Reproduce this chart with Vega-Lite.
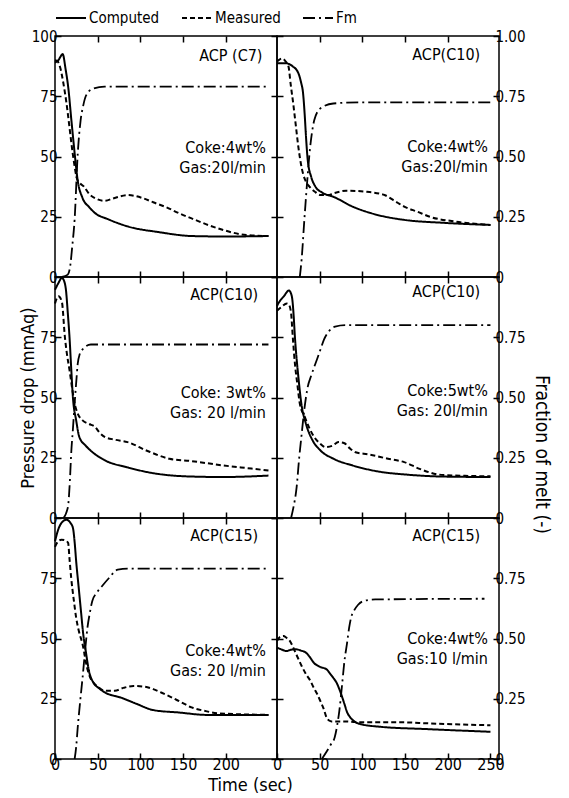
{
  "$schema": "https://vega.github.io/schema/vega-lite/v6.json",
  "padding": {"left": 19, "top": 2, "right": 5, "bottom": 0},
  "config": {
    "font": "DejaVu Sans Condensed, Liberation Sans Narrow, Liberation Sans, sans-serif",
    "view": {"stroke": "black", "strokeWidth": 1.5},
    "axis": {"domain": false, "grid": false, "tickColor": "black", "tickWidth": 1.5, "tickSize": -6, "labelColor": "black", "labelFontSize": 15, "titleColor": "black", "titleFontSize": 17, "titleFontWeight": "normal", "labelPadding": 4, "labelFlush": false},
    "axisX": {"labelFontSize": 16, "labelPadding": 3},
    "legend": {"orient": "top", "direction": "horizontal", "title": null, "offset": 2, "symbolType": "stroke", "symbolSize": 900, "symbolStrokeWidth": 1.8, "symbolStrokeColor": "black", "labelFontSize": 15, "labelColor": "black", "columnPadding": 18, "labelOffset": 2},
    "line": {"color": "black"},
    "text": {"color": "black", "fontSize": 16, "align": "right", "baseline": "middle", "lineHeight": 20}
  },
  "datasets": {
    "A": [
      {"s": "Computed", "t": 0, "p": 89}, {"s": "Computed", "t": 4, "p": 90}, {"s": "Computed", "t": 9, "p": 92.5}, {"s": "Computed", "t": 12.5, "p": 86}, {"s": "Computed", "t": 15.4, "p": 79}, {"s": "Computed", "t": 19.2, "p": 65}, {"s": "Computed", "t": 23, "p": 51.4}, {"s": "Computed", "t": 26.6, "p": 40}, {"s": "Computed", "t": 32, "p": 33}, {"s": "Computed", "t": 40, "p": 29}, {"s": "Computed", "t": 47, "p": 26.5}, {"s": "Computed", "t": 62, "p": 24}, {"s": "Computed", "t": 85, "p": 21}, {"s": "Computed", "t": 122, "p": 18.6}, {"s": "Computed", "t": 160, "p": 17}, {"s": "Computed", "t": 200, "p": 16.8}, {"s": "Computed", "t": 250, "p": 17},
      {"s": "Measured", "t": 0, "p": 90}, {"s": "Measured", "t": 3, "p": 89.5}, {"s": "Measured", "t": 6, "p": 87}, {"s": "Measured", "t": 10, "p": 80}, {"s": "Measured", "t": 13.5, "p": 72}, {"s": "Measured", "t": 17, "p": 62}, {"s": "Measured", "t": 20.7, "p": 51.4}, {"s": "Measured", "t": 26.6, "p": 40}, {"s": "Measured", "t": 34, "p": 37.5}, {"s": "Measured", "t": 40, "p": 34.5}, {"s": "Measured", "t": 47, "p": 32.7}, {"s": "Measured", "t": 58, "p": 31.6}, {"s": "Measured", "t": 69, "p": 32.7}, {"s": "Measured", "t": 85, "p": 34}, {"s": "Measured", "t": 103, "p": 32.7}, {"s": "Measured", "t": 115, "p": 31}, {"s": "Measured", "t": 130, "p": 29}, {"s": "Measured", "t": 145, "p": 26.5}, {"s": "Measured", "t": 160, "p": 24.3}, {"s": "Measured", "t": 180, "p": 21.5}, {"s": "Measured", "t": 197, "p": 19.5}, {"s": "Measured", "t": 224, "p": 17.4}, {"s": "Measured", "t": 250, "p": 17},
      {"s": "Fm", "t": 8, "f": 0}, {"s": "Fm", "t": 15, "f": 0.01}, {"s": "Fm", "t": 18, "f": 0.05}, {"s": "Fm", "t": 20, "f": 0.12}, {"s": "Fm", "t": 23, "f": 0.24}, {"s": "Fm", "t": 26.6, "f": 0.51}, {"s": "Fm", "t": 30, "f": 0.65}, {"s": "Fm", "t": 33, "f": 0.71}, {"s": "Fm", "t": 36, "f": 0.75}, {"s": "Fm", "t": 43.5, "f": 0.78}, {"s": "Fm", "t": 58, "f": 0.79}, {"s": "Fm", "t": 250, "f": 0.79}
    ],
    "B": [
      {"s": "Computed", "t": 0, "p": 88.7}, {"s": "Computed", "t": 10, "p": 88.7}, {"s": "Computed", "t": 18, "p": 87.5}, {"s": "Computed", "t": 25, "p": 84.6}, {"s": "Computed", "t": 28, "p": 81}, {"s": "Computed", "t": 30.6, "p": 76}, {"s": "Computed", "t": 32.5, "p": 67}, {"s": "Computed", "t": 34, "p": 58}, {"s": "Computed", "t": 36, "p": 48.5}, {"s": "Computed", "t": 40, "p": 41.6}, {"s": "Computed", "t": 45, "p": 37.5}, {"s": "Computed", "t": 53, "p": 35}, {"s": "Computed", "t": 66, "p": 33.3}, {"s": "Computed", "t": 88.6, "p": 29.2}, {"s": "Computed", "t": 115, "p": 26}, {"s": "Computed", "t": 149, "p": 23.7}, {"s": "Computed", "t": 194, "p": 22.5}, {"s": "Computed", "t": 250, "p": 21.6},
      {"s": "Measured", "t": 0, "p": 89.4}, {"s": "Measured", "t": 6, "p": 90.7}, {"s": "Measured", "t": 10, "p": 89.5}, {"s": "Measured", "t": 13.5, "p": 87.3}, {"s": "Measured", "t": 16, "p": 80}, {"s": "Measured", "t": 19, "p": 72}, {"s": "Measured", "t": 22, "p": 63}, {"s": "Measured", "t": 25, "p": 54}, {"s": "Measured", "t": 28, "p": 47}, {"s": "Measured", "t": 30.4, "p": 43}, {"s": "Measured", "t": 34, "p": 39.5}, {"s": "Measured", "t": 38, "p": 37.5}, {"s": "Measured", "t": 44, "p": 35.5}, {"s": "Measured", "t": 51, "p": 34}, {"s": "Measured", "t": 60, "p": 34}, {"s": "Measured", "t": 66, "p": 34.7}, {"s": "Measured", "t": 81, "p": 35.8}, {"s": "Measured", "t": 103.6, "p": 35.4}, {"s": "Measured", "t": 126, "p": 34}, {"s": "Measured", "t": 138, "p": 31.5}, {"s": "Measured", "t": 149, "p": 29.2}, {"s": "Measured", "t": 165, "p": 27}, {"s": "Measured", "t": 179, "p": 25}, {"s": "Measured", "t": 209, "p": 23}, {"s": "Measured", "t": 250, "p": 21.6},
      {"s": "Fm", "t": 26.7, "f": 0}, {"s": "Fm", "t": 29, "f": 0.08}, {"s": "Fm", "t": 32, "f": 0.236}, {"s": "Fm", "t": 35, "f": 0.38}, {"s": "Fm", "t": 38, "f": 0.51}, {"s": "Fm", "t": 41, "f": 0.6}, {"s": "Fm", "t": 43.6, "f": 0.65}, {"s": "Fm", "t": 51, "f": 0.7}, {"s": "Fm", "t": 66, "f": 0.72}, {"s": "Fm", "t": 100, "f": 0.725}, {"s": "Fm", "t": 250, "f": 0.725}
    ],
    "C": [
      {"s": "Computed", "t": 0, "p": 94.7}, {"s": "Computed", "t": 4, "p": 97.5}, {"s": "Computed", "t": 8, "p": 99.6}, {"s": "Computed", "t": 11, "p": 98}, {"s": "Computed", "t": 12.8, "p": 94.7}, {"s": "Computed", "t": 15, "p": 85}, {"s": "Computed", "t": 17, "p": 75}, {"s": "Computed", "t": 19, "p": 62}, {"s": "Computed", "t": 21, "p": 50}, {"s": "Computed", "t": 24.8, "p": 40.5}, {"s": "Computed", "t": 28.5, "p": 33.6}, {"s": "Computed", "t": 36, "p": 30}, {"s": "Computed", "t": 45, "p": 27}, {"s": "Computed", "t": 58.6, "p": 23.9}, {"s": "Computed", "t": 85, "p": 21}, {"s": "Computed", "t": 115, "p": 18.6}, {"s": "Computed", "t": 160, "p": 17.2}, {"s": "Computed", "t": 197, "p": 17}, {"s": "Computed", "t": 250, "p": 17.6},
      {"s": "Measured", "t": 0, "p": 89}, {"s": "Measured", "t": 4, "p": 92}, {"s": "Measured", "t": 8, "p": 89.8}, {"s": "Measured", "t": 11.6, "p": 75}, {"s": "Measured", "t": 14, "p": 68}, {"s": "Measured", "t": 17, "p": 61.4}, {"s": "Measured", "t": 20, "p": 54}, {"s": "Measured", "t": 23, "p": 47.5}, {"s": "Measured", "t": 27, "p": 43}, {"s": "Measured", "t": 32.3, "p": 40.5}, {"s": "Measured", "t": 40, "p": 39}, {"s": "Measured", "t": 47, "p": 37.8}, {"s": "Measured", "t": 52, "p": 35.5}, {"s": "Measured", "t": 58.6, "p": 33.6}, {"s": "Measured", "t": 70, "p": 32.5}, {"s": "Measured", "t": 85, "p": 31.5}, {"s": "Measured", "t": 107, "p": 28}, {"s": "Measured", "t": 134, "p": 24.6}, {"s": "Measured", "t": 160, "p": 23.6}, {"s": "Measured", "t": 197, "p": 21.8}, {"s": "Measured", "t": 230, "p": 20.5}, {"s": "Measured", "t": 250, "p": 19.7},
      {"s": "Fm", "t": 10, "f": 0}, {"s": "Fm", "t": 13, "f": 0.02}, {"s": "Fm", "t": 15.6, "f": 0.058}, {"s": "Fm", "t": 17.5, "f": 0.16}, {"s": "Fm", "t": 19, "f": 0.27}, {"s": "Fm", "t": 21, "f": 0.37}, {"s": "Fm", "t": 23, "f": 0.475}, {"s": "Fm", "t": 25, "f": 0.57}, {"s": "Fm", "t": 26.6, "f": 0.64}, {"s": "Fm", "t": 29, "f": 0.68}, {"s": "Fm", "t": 32.3, "f": 0.7}, {"s": "Fm", "t": 42, "f": 0.72}, {"s": "Fm", "t": 250, "f": 0.72}
    ],
    "D": [
      {"s": "Computed", "t": 0, "p": 88}, {"s": "Computed", "t": 1.5, "p": 89}, {"s": "Computed", "t": 8, "p": 92}, {"s": "Computed", "t": 14, "p": 94.4}, {"s": "Computed", "t": 16, "p": 93.5}, {"s": "Computed", "t": 18, "p": 90.5}, {"s": "Computed", "t": 19.5, "p": 84}, {"s": "Computed", "t": 21, "p": 75}, {"s": "Computed", "t": 23, "p": 66}, {"s": "Computed", "t": 25, "p": 58.6}, {"s": "Computed", "t": 28.5, "p": 47.5}, {"s": "Computed", "t": 34, "p": 39}, {"s": "Computed", "t": 41.7, "p": 32.2}, {"s": "Computed", "t": 51, "p": 28}, {"s": "Computed", "t": 66, "p": 24.6}, {"s": "Computed", "t": 88.6, "p": 21.8}, {"s": "Computed", "t": 118.6, "p": 19.3}, {"s": "Computed", "t": 152, "p": 18}, {"s": "Computed", "t": 194, "p": 17.2}, {"s": "Computed", "t": 250, "p": 17},
      {"s": "Measured", "t": 0, "p": 86}, {"s": "Measured", "t": 5, "p": 87.5}, {"s": "Measured", "t": 11.6, "p": 89}, {"s": "Measured", "t": 14, "p": 88.5}, {"s": "Measured", "t": 16.5, "p": 85}, {"s": "Measured", "t": 18.5, "p": 75}, {"s": "Measured", "t": 21, "p": 64}, {"s": "Measured", "t": 24, "p": 55}, {"s": "Measured", "t": 26.7, "p": 47.5}, {"s": "Measured", "t": 32.5, "p": 42}, {"s": "Measured", "t": 37, "p": 38}, {"s": "Measured", "t": 43.6, "p": 33.6}, {"s": "Measured", "t": 50, "p": 31}, {"s": "Measured", "t": 56.7, "p": 29.4}, {"s": "Measured", "t": 65, "p": 30}, {"s": "Measured", "t": 72, "p": 31.5}, {"s": "Measured", "t": 79, "p": 31}, {"s": "Measured", "t": 85, "p": 29}, {"s": "Measured", "t": 92, "p": 27.3}, {"s": "Measured", "t": 107, "p": 26.4}, {"s": "Measured", "t": 130, "p": 24.6}, {"s": "Measured", "t": 149, "p": 23.2}, {"s": "Measured", "t": 167, "p": 20.4}, {"s": "Measured", "t": 190, "p": 18}, {"s": "Measured", "t": 220, "p": 17.5}, {"s": "Measured", "t": 250, "p": 17.3},
      {"s": "Fm", "t": 16.5, "f": 0}, {"s": "Fm", "t": 19, "f": 0.04}, {"s": "Fm", "t": 23, "f": 0.128}, {"s": "Fm", "t": 26, "f": 0.25}, {"s": "Fm", "t": 28.5, "f": 0.335}, {"s": "Fm", "t": 32, "f": 0.45}, {"s": "Fm", "t": 36, "f": 0.544}, {"s": "Fm", "t": 40, "f": 0.59}, {"s": "Fm", "t": 43.6, "f": 0.627}, {"s": "Fm", "t": 47, "f": 0.66}, {"s": "Fm", "t": 51, "f": 0.7}, {"s": "Fm", "t": 55, "f": 0.74}, {"s": "Fm", "t": 60.4, "f": 0.773}, {"s": "Fm", "t": 68, "f": 0.794}, {"s": "Fm", "t": 80, "f": 0.8}, {"s": "Fm", "t": 250, "f": 0.8}
    ],
    "E": [
      {"s": "Computed", "t": 0, "p": 90.4}, {"s": "Computed", "t": 4.5, "p": 95.9}, {"s": "Computed", "t": 9, "p": 98.5}, {"s": "Computed", "t": 13.5, "p": 99.3}, {"s": "Computed", "t": 18, "p": 98}, {"s": "Computed", "t": 21, "p": 95.9}, {"s": "Computed", "t": 23, "p": 90}, {"s": "Computed", "t": 24.8, "p": 82}, {"s": "Computed", "t": 27.5, "p": 72}, {"s": "Computed", "t": 30.4, "p": 61.4}, {"s": "Computed", "t": 33, "p": 52}, {"s": "Computed", "t": 36, "p": 44.8}, {"s": "Computed", "t": 39.8, "p": 36.5}, {"s": "Computed", "t": 45, "p": 31.7}, {"s": "Computed", "t": 51, "p": 29.5}, {"s": "Computed", "t": 58.6, "p": 27.6}, {"s": "Computed", "t": 77, "p": 25.5}, {"s": "Computed", "t": 96, "p": 22.8}, {"s": "Computed", "t": 115, "p": 20.3}, {"s": "Computed", "t": 145, "p": 19.3}, {"s": "Computed", "t": 178, "p": 18.3}, {"s": "Computed", "t": 250, "p": 18.3},
      {"s": "Measured", "t": 0, "p": 88}, {"s": "Measured", "t": 3, "p": 90}, {"s": "Measured", "t": 7.5, "p": 91}, {"s": "Measured", "t": 12, "p": 90.7}, {"s": "Measured", "t": 15.4, "p": 89.6}, {"s": "Measured", "t": 17, "p": 83}, {"s": "Measured", "t": 19, "p": 75}, {"s": "Measured", "t": 22, "p": 66}, {"s": "Measured", "t": 24.8, "p": 58.6}, {"s": "Measured", "t": 28, "p": 53}, {"s": "Measured", "t": 32.3, "p": 47.6}, {"s": "Measured", "t": 37.5, "p": 38}, {"s": "Measured", "t": 41, "p": 34}, {"s": "Measured", "t": 45, "p": 31.7}, {"s": "Measured", "t": 50, "p": 30}, {"s": "Measured", "t": 58.6, "p": 28.3}, {"s": "Measured", "t": 70, "p": 28.3}, {"s": "Measured", "t": 80, "p": 29.5}, {"s": "Measured", "t": 92, "p": 30.3}, {"s": "Measured", "t": 105, "p": 30}, {"s": "Measured", "t": 115, "p": 29}, {"s": "Measured", "t": 125, "p": 27.5}, {"s": "Measured", "t": 137, "p": 25.5}, {"s": "Measured", "t": 148, "p": 23.5}, {"s": "Measured", "t": 160, "p": 21.4}, {"s": "Measured", "t": 175, "p": 20}, {"s": "Measured", "t": 190, "p": 19}, {"s": "Measured", "t": 250, "p": 18.3},
      {"s": "Fm", "t": 23, "f": 0}, {"s": "Fm", "t": 24.8, "f": 0.05}, {"s": "Fm", "t": 26.6, "f": 0.13}, {"s": "Fm", "t": 29.5, "f": 0.24}, {"s": "Fm", "t": 32.3, "f": 0.338}, {"s": "Fm", "t": 35, "f": 0.44}, {"s": "Fm", "t": 38, "f": 0.545}, {"s": "Fm", "t": 41, "f": 0.61}, {"s": "Fm", "t": 43.6, "f": 0.655}, {"s": "Fm", "t": 49, "f": 0.69}, {"s": "Fm", "t": 55, "f": 0.717}, {"s": "Fm", "t": 63, "f": 0.75}, {"s": "Fm", "t": 73.5, "f": 0.786}, {"s": "Fm", "t": 85, "f": 0.79}, {"s": "Fm", "t": 250, "f": 0.79}
    ],
    "F": [
      {"s": "Computed", "t": 0, "p": 46.2}, {"s": "Computed", "t": 5, "p": 45.5}, {"s": "Computed", "t": 11, "p": 44.8}, {"s": "Computed", "t": 16, "p": 45.3}, {"s": "Computed", "t": 22.5, "p": 45.5}, {"s": "Computed", "t": 28, "p": 45}, {"s": "Computed", "t": 34, "p": 44.1}, {"s": "Computed", "t": 39, "p": 42}, {"s": "Computed", "t": 43, "p": 40}, {"s": "Computed", "t": 50.7, "p": 38.2}, {"s": "Computed", "t": 58, "p": 37.2}, {"s": "Computed", "t": 62, "p": 35.5}, {"s": "Computed", "t": 65.7, "p": 33.8}, {"s": "Computed", "t": 70, "p": 31.5}, {"s": "Computed", "t": 73, "p": 29}, {"s": "Computed", "t": 79, "p": 22.8}, {"s": "Computed", "t": 82, "p": 19.5}, {"s": "Computed", "t": 86, "p": 17.2}, {"s": "Computed", "t": 91, "p": 15.5}, {"s": "Computed", "t": 97.6, "p": 14.5}, {"s": "Computed", "t": 120, "p": 13.4}, {"s": "Computed", "t": 176, "p": 12.4}, {"s": "Computed", "t": 250, "p": 11.3},
      {"s": "Measured", "t": 0, "p": 49}, {"s": "Measured", "t": 3, "p": 50.5}, {"s": "Measured", "t": 7.5, "p": 51}, {"s": "Measured", "t": 11, "p": 50.3}, {"s": "Measured", "t": 15, "p": 49}, {"s": "Measured", "t": 20, "p": 45.5}, {"s": "Measured", "t": 24.4, "p": 42}, {"s": "Measured", "t": 29, "p": 38.5}, {"s": "Measured", "t": 34, "p": 35.2}, {"s": "Measured", "t": 39, "p": 32.5}, {"s": "Measured", "t": 43, "p": 29.6}, {"s": "Measured", "t": 47, "p": 27}, {"s": "Measured", "t": 50.7, "p": 24.1}, {"s": "Measured", "t": 55, "p": 20.5}, {"s": "Measured", "t": 58, "p": 17.2}, {"s": "Measured", "t": 61, "p": 16}, {"s": "Measured", "t": 64, "p": 15.6}, {"s": "Measured", "t": 79, "p": 15.6}, {"s": "Measured", "t": 101, "p": 15.2}, {"s": "Measured", "t": 150, "p": 15.2}, {"s": "Measured", "t": 176, "p": 14.8}, {"s": "Measured", "t": 250, "p": 14},
      {"s": "Fm", "t": 52.5, "f": 0}, {"s": "Fm", "t": 58, "f": 0.03}, {"s": "Fm", "t": 63, "f": 0.06}, {"s": "Fm", "t": 67.6, "f": 0.09}, {"s": "Fm", "t": 70.5, "f": 0.14}, {"s": "Fm", "t": 73, "f": 0.2}, {"s": "Fm", "t": 76, "f": 0.3}, {"s": "Fm", "t": 79, "f": 0.407}, {"s": "Fm", "t": 82, "f": 0.48}, {"s": "Fm", "t": 84.5, "f": 0.545}, {"s": "Fm", "t": 87, "f": 0.59}, {"s": "Fm", "t": 90, "f": 0.614}, {"s": "Fm", "t": 95, "f": 0.64}, {"s": "Fm", "t": 101, "f": 0.655}, {"s": "Fm", "t": 115, "f": 0.662}, {"s": "Fm", "t": 243, "f": 0.665}
    ]
  },
  "columns": 2,
  "spacing": 0,
  "bounds": "flush",
  "concat": [
      {"width": 222, "height": 241, "data": {"name": "A"},
       "layer": [
         {"layer": [
           {"transform": [{"filter": "datum.s != 'Fm'"}], "mark": {"type": "line", "interpolate": "monotone", "strokeWidth": 2},
            "encoding": {"x": {"field": "t", "type": "quantitative", "scale": {"domain": [0, 250]}, "axis": {"values": [50, 100, 150, 200], "labels": false, "title": null}},
                         "y": {"field": "p", "type": "quantitative", "scale": {"domain": [0, 100]}, "axis": {"values": [0, 25, 50, 75, 100], "title": null}},
                         "strokeDash": {"field": "s", "type": "nominal", "scale": {"domain": ["Computed", "Measured", "Fm"], "range": [[1, 0], [5, 3], [12, 4, 2, 4]]}}}},
           {"data": {"values": [{}]}, "mark": {"type": "text"}, "encoding": {"x": {"datum": 243}, "y": {"datum": 91.5}, "text": {"value": "ACP (C7)"}}},
           {"data": {"values": [{}]}, "mark": {"type": "text"}, "encoding": {"x": {"datum": 247}, "y": {"datum": 53.5}, "text": {"value": ["Coke:4wt%", "Gas:20l/min"]}}}
         ]},
         {"transform": [{"filter": "datum.s == 'Fm'"}], "mark": {"type": "line", "interpolate": "monotone", "strokeWidth": 1.8},
          "encoding": {"x": {"field": "t", "type": "quantitative", "scale": {"domain": [0, 250]}, "axis": {"orient": "top", "values": [50, 100, 150, 200], "labels": false, "title": null}},
                       "y": {"field": "f", "type": "quantitative", "scale": {"domain": [0, 1]}, "axis": {"orient": "right", "values": [0, 0.25, 0.5, 0.75, 1], "labels": false, "title": null}},
                       "strokeDash": {"field": "s", "type": "nominal", "scale": {"domain": ["Computed", "Measured", "Fm"], "range": [[1, 0], [5, 3], [12, 4, 2, 4]]}}}}
       ],
       "resolve": {"scale": {"y": "independent"}, "axis": {"x": "independent"}}},
      {"width": 222, "height": 241, "data": {"name": "B"},
       "layer": [
         {"layer": [
           {"transform": [{"filter": "datum.s != 'Fm'"}], "mark": {"type": "line", "interpolate": "monotone", "strokeWidth": 2},
            "encoding": {"x": {"field": "t", "type": "quantitative", "scale": {"domain": [0, 250]}, "axis": {"values": [50, 100, 150, 200], "labels": false, "title": null}},
                         "y": {"field": "p", "type": "quantitative", "scale": {"domain": [0, 100]}, "axis": {"values": [0, 25, 50, 75, 100], "labels": false, "title": null}},
                         "strokeDash": {"field": "s", "type": "nominal", "scale": {"domain": ["Computed", "Measured", "Fm"], "range": [[1, 0], [5, 3], [12, 4, 2, 4]]}}}},
           {"data": {"values": [{}]}, "mark": {"type": "text"}, "encoding": {"x": {"datum": 238}, "y": {"datum": 92}, "text": {"value": "ACP(C10)"}}},
           {"data": {"values": [{}]}, "mark": {"type": "text"}, "encoding": {"x": {"datum": 247}, "y": {"datum": 54}, "text": {"value": ["Coke:4wt%", "Gas:20l/min"]}}}
         ]},
         {"transform": [{"filter": "datum.s == 'Fm'"}], "mark": {"type": "line", "interpolate": "monotone", "strokeWidth": 1.8},
          "encoding": {"x": {"field": "t", "type": "quantitative", "scale": {"domain": [0, 250]}, "axis": {"orient": "top", "values": [50, 100, 150, 200], "labels": false, "title": null}},
                       "y": {"field": "f", "type": "quantitative", "scale": {"domain": [0, 1]}, "axis": {"orient": "right", "values": [0, 0.25, 0.5, 0.75, 1], "labelExpr": "datum.value == 0 ? '0' : format(datum.value, '.2f')", "labelPadding": 2, "title": null}},
                       "strokeDash": {"field": "s", "type": "nominal", "scale": {"domain": ["Computed", "Measured", "Fm"], "range": [[1, 0], [5, 3], [12, 4, 2, 4]]}}}}
       ],
       "resolve": {"scale": {"y": "independent"}, "axis": {"x": "independent"}}},
      {"width": 222, "height": 241, "data": {"name": "C"},
       "layer": [
         {"layer": [
           {"transform": [{"filter": "datum.s != 'Fm'"}], "mark": {"type": "line", "interpolate": "monotone", "strokeWidth": 2},
            "encoding": {"x": {"field": "t", "type": "quantitative", "scale": {"domain": [0, 250]}, "axis": {"values": [50, 100, 150, 200], "labels": false, "title": null}},
                         "y": {"field": "p", "type": "quantitative", "scale": {"domain": [0, 100]}, "axis": {"values": [0, 25, 50, 75], "title": "Pressure drop  (mmAq)", "titleFontSize": 18, "titlePadding": 2}},
                         "strokeDash": {"field": "s", "type": "nominal", "scale": {"domain": ["Computed", "Measured", "Fm"], "range": [[1, 0], [5, 3], [12, 4, 2, 4]]}}}},
           {"data": {"values": [{}]}, "mark": {"type": "text"}, "encoding": {"x": {"datum": 238}, "y": {"datum": 92.6}, "text": {"value": "ACP(C10)"}}},
           {"data": {"values": [{}]}, "mark": {"type": "text"}, "encoding": {"x": {"datum": 247}, "y": {"datum": 52}, "text": {"value": ["Coke: 3wt%", "Gas: 20 l/min"]}}}
         ]},
         {"transform": [{"filter": "datum.s == 'Fm'"}], "mark": {"type": "line", "interpolate": "monotone", "strokeWidth": 1.8},
          "encoding": {"x": {"field": "t", "type": "quantitative", "scale": {"domain": [0, 250]}, "axis": {"orient": "top", "values": [50, 100, 150, 200], "labels": false, "title": null}},
                       "y": {"field": "f", "type": "quantitative", "scale": {"domain": [0, 1]}, "axis": {"orient": "right", "values": [0, 0.25, 0.5, 0.75, 1], "labels": false, "title": null}},
                       "strokeDash": {"field": "s", "type": "nominal", "scale": {"domain": ["Computed", "Measured", "Fm"], "range": [[1, 0], [5, 3], [12, 4, 2, 4]]}}}}
       ],
       "resolve": {"scale": {"y": "independent"}, "axis": {"x": "independent"}}},
      {"width": 222, "height": 241, "data": {"name": "D"},
       "layer": [
         {"layer": [
           {"transform": [{"filter": "datum.s != 'Fm'"}], "mark": {"type": "line", "interpolate": "monotone", "strokeWidth": 2},
            "encoding": {"x": {"field": "t", "type": "quantitative", "scale": {"domain": [0, 250]}, "axis": {"values": [50, 100, 150, 200], "labels": false, "title": null}},
                         "y": {"field": "p", "type": "quantitative", "scale": {"domain": [0, 100]}, "axis": {"values": [0, 25, 50, 75], "labels": false, "title": null}},
                         "strokeDash": {"field": "s", "type": "nominal", "scale": {"domain": ["Computed", "Measured", "Fm"], "range": [[1, 0], [5, 3], [12, 4, 2, 4]]}}}},
           {"data": {"values": [{}]}, "mark": {"type": "text"}, "encoding": {"x": {"datum": 238}, "y": {"datum": 93.6}, "text": {"value": "ACP(C10)"}}},
           {"data": {"values": [{}]}, "mark": {"type": "text"}, "encoding": {"x": {"datum": 247}, "y": {"datum": 52.8}, "text": {"value": ["Coke:5wt%", "Gas: 20l/min"]}}}
         ]},
         {"transform": [{"filter": "datum.s == 'Fm'"}], "mark": {"type": "line", "interpolate": "monotone", "strokeWidth": 1.8},
          "encoding": {"x": {"field": "t", "type": "quantitative", "scale": {"domain": [0, 250]}, "axis": {"orient": "top", "values": [50, 100, 150, 200], "labels": false, "title": null}},
                       "y": {"field": "f", "type": "quantitative", "scale": {"domain": [0, 1]}, "axis": {"orient": "right", "values": [0, 0.25, 0.5, 0.75], "labelExpr": "datum.value == 0 ? '0' : format(datum.value, '.2f')", "labelPadding": 2, "title": "Fraction  of  melt   (-)", "titleFontSize": 19, "titleY": 177, "titlePadding": 6}},
                       "strokeDash": {"field": "s", "type": "nominal", "scale": {"domain": ["Computed", "Measured", "Fm"], "range": [[1, 0], [5, 3], [12, 4, 2, 4]]}}}}
       ],
       "resolve": {"scale": {"y": "independent"}, "axis": {"x": "independent"}}},
      {"width": 222, "height": 241, "data": {"name": "E"},
       "layer": [
         {"layer": [
           {"transform": [{"filter": "datum.s != 'Fm'"}], "mark": {"type": "line", "interpolate": "monotone", "strokeWidth": 2},
            "encoding": {"x": {"field": "t", "type": "quantitative", "scale": {"domain": [0, 250]}, "axis": {"values": [0, 50, 100, 150, 200], "title": "Time  (sec)", "titleFontSize": 18, "titlePadding": 4, "titleX": 195}},
                         "y": {"field": "p", "type": "quantitative", "scale": {"domain": [0, 100]}, "axis": {"values": [0, 25, 50, 75], "title": null}},
                         "strokeDash": {"field": "s", "type": "nominal", "scale": {"domain": ["Computed", "Measured", "Fm"], "range": [[1, 0], [5, 3], [12, 4, 2, 4]]}}}},
           {"data": {"values": [{}]}, "mark": {"type": "text"}, "encoding": {"x": {"datum": 238}, "y": {"datum": 92.4}, "text": {"value": "ACP(C15)"}}},
           {"data": {"values": [{}]}, "mark": {"type": "text"}, "encoding": {"x": {"datum": 247}, "y": {"datum": 45}, "text": {"value": ["Coke:4wt%", "Gas: 20 l/min"]}}}
         ]},
         {"transform": [{"filter": "datum.s == 'Fm'"}], "mark": {"type": "line", "interpolate": "monotone", "strokeWidth": 1.8},
          "encoding": {"x": {"field": "t", "type": "quantitative", "scale": {"domain": [0, 250]}, "axis": {"orient": "top", "values": [50, 100, 150, 200], "labels": false, "title": null}},
                       "y": {"field": "f", "type": "quantitative", "scale": {"domain": [0, 1]}, "axis": {"orient": "right", "values": [0, 0.25, 0.5, 0.75, 1], "labels": false, "title": null}},
                       "strokeDash": {"field": "s", "type": "nominal", "scale": {"domain": ["Computed", "Measured", "Fm"], "range": [[1, 0], [5, 3], [12, 4, 2, 4]]}}}}
       ],
       "resolve": {"scale": {"y": "independent"}, "axis": {"x": "independent"}}},
      {"width": 222, "height": 241, "data": {"name": "F"},
       "layer": [
         {"layer": [
           {"transform": [{"filter": "datum.s != 'Fm'"}], "mark": {"type": "line", "interpolate": "monotone", "strokeWidth": 2},
            "encoding": {"x": {"field": "t", "type": "quantitative", "scale": {"domain": [0, 250]}, "axis": {"values": [0, 50, 100, 150, 200, 250], "title": null}},
                         "y": {"field": "p", "type": "quantitative", "scale": {"domain": [0, 100]}, "axis": {"values": [0, 25, 50, 75], "labels": false, "title": null}},
                         "strokeDash": {"field": "s", "type": "nominal", "scale": {"domain": ["Computed", "Measured", "Fm"], "range": [[1, 0], [5, 3], [12, 4, 2, 4]]}}}},
           {"data": {"values": [{}]}, "mark": {"type": "text"}, "encoding": {"x": {"datum": 238}, "y": {"datum": 92.4}, "text": {"value": "ACP(C15)"}}},
           {"data": {"values": [{}]}, "mark": {"type": "text"}, "encoding": {"x": {"datum": 247}, "y": {"datum": 50}, "text": {"value": ["Coke:4wt%", "Gas:10 l/min"]}}}
         ]},
         {"transform": [{"filter": "datum.s == 'Fm'"}], "mark": {"type": "line", "interpolate": "monotone", "strokeWidth": 1.8},
          "encoding": {"x": {"field": "t", "type": "quantitative", "scale": {"domain": [0, 250]}, "axis": {"orient": "top", "values": [50, 100, 150, 200], "labels": false, "title": null}},
                       "y": {"field": "f", "type": "quantitative", "scale": {"domain": [0, 1]}, "axis": {"orient": "right", "values": [0, 0.25, 0.5, 0.75], "labelExpr": "datum.value == 0 ? '0' : format(datum.value, '.2f')", "labelPadding": 2, "title": null}},
                       "strokeDash": {"field": "s", "type": "nominal", "scale": {"domain": ["Computed", "Measured", "Fm"], "range": [[1, 0], [5, 3], [12, 4, 2, 4]]}}}}
       ],
       "resolve": {"scale": {"y": "independent"}, "axis": {"x": "independent"}}}
  ]
}
